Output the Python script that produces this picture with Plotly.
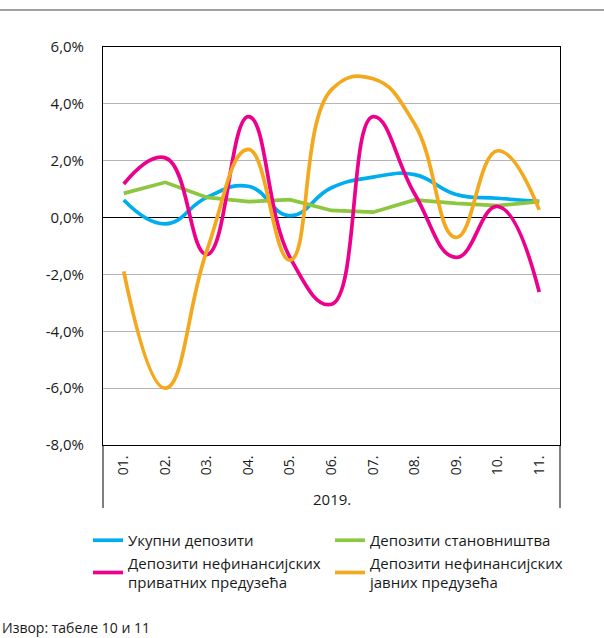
import plotly.graph_objects as go

months = ["01.", "02.", "03.", "04.", "05.", "06.", "07.", "08.", "09.", "10.", "11."]
year_label = "2019."

ukupni = [0.62, -0.22, 0.71, 1.10, 0.07, 1.05, 1.42, 1.51, 0.81, 0.68, 0.57]
stanovnistvo = [0.85, 1.24, 0.71, 0.56, 0.63, 0.25, 0.19, 0.62, 0.50, 0.42, 0.56]
privatna = [1.18, 2.10, -1.30, 3.55, -1.40, -3.05, 3.55, 0.84, -1.40, 0.39, -2.62]
javna = [-1.89, -6.00, -1.16, 2.40, -1.50, 4.50, 4.88, 3.29, -0.70, 2.35, 0.27]

names = ["Укупни депозити", "Депозити становништва",
         "Депозити нефинансијских<br>приватних предузећа",
         "Депозити нефинансијских<br>јавних предузећа"]
colors = ["#00aeef", "#8dc63f", "#ec008c", "#f4a81d"]
series = [ukupni, stanovnistvo, privatna, javna]
shapes_ = ["spline", "linear", "spline", "spline"]

y_ticks = [-8, -6, -4, -2, 0, 2, 4, 6]
y_text = ["-8,0%", "-6,0%", "-4,0%", "-2,0%", "0,0%", "2,0%", "4,0%", "6,0%"]

fig = go.Figure()
for nm, col, s, sh in zip(names, colors, series, shapes_):
    fig.add_trace(go.Scatter(x=months, y=s, name=nm, mode="lines",
                             line=dict(color=col, width=3.7, shape=sh, smoothing=1.3)))

font = "Open Sans, Noto Sans, sans-serif"
W, H = 604, 638
L, R, T, B = 103, 44, 47, 193
ph = H - T - B
pw = W - L - R

def py(y):
    return (H - B - y) / ph

def px(x):
    return (x - L) / pw

fig.update_layout(
    width=W, height=H,
    margin=dict(l=L, r=R, t=T, b=B),
    plot_bgcolor="white", paper_bgcolor="white",
    font=dict(family=font, size=14, color="#1a1a1a"),
    showlegend=True,
    legend=dict(orientation="h", x=px(88), y=py(524), xanchor="left", yanchor="top",
                entrywidth=197, entrywidthmode="pixels", font=dict(size=15),
                tracegroupgap=4, itemwidth=30),
    xaxis=dict(type="category", range=[-0.5, 10.5], tickangle=-90,
               showline=True, linecolor="black", linewidth=1, mirror=True,
               showgrid=False, ticks="", tickfont=dict(size=14), ticklabelstandoff=4),
    yaxis=dict(range=[-8, 6], tickvals=y_ticks, ticktext=y_text,
               showline=True, linecolor="black", linewidth=1, mirror=True,
               showgrid=True, gridcolor="#b5b5b5", gridwidth=1.2,
               zeroline=True, zerolinecolor="black", zerolinewidth=1,
               ticks="", tickfont=dict(size=15), ticklabelstandoff=15),
    shapes=[
        dict(type="line", xref="paper", yref="paper", x0=px(0), x1=px(W), y0=py(10), y1=py(10),
             line=dict(color="#808080", width=1.5)),
        dict(type="line", xref="paper", yref="paper", x0=0, x1=0, y0=0, y1=py(508),
             line=dict(color="black", width=1)),
        dict(type="line", xref="paper", yref="paper", x0=1, x1=1, y0=0, y1=py(508),
             line=dict(color="black", width=1)),
    ],
    annotations=[
        dict(text=year_label, xref="paper", yref="paper", x=0.5, y=py(499),
             showarrow=False, font=dict(size=15), xanchor="center", yanchor="middle"),
        dict(text="Извор: табеле 10 и 11", xref="paper", yref="paper", x=px(0), y=py(627),
             showarrow=False, font=dict(size=14), xanchor="left", yanchor="middle"),
    ],
)

fig.write_html("out.html", config={"displayModeBar": False},
               post_script="document.body.style.margin='0px';document.body.style.padding='0px';")
